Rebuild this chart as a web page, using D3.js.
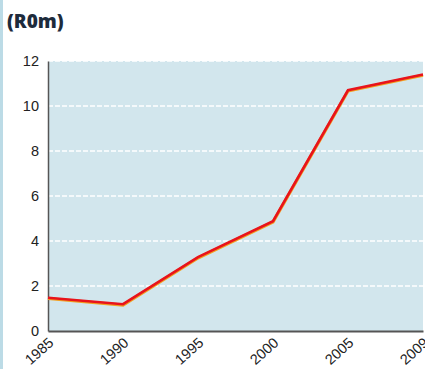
<!DOCTYPE html>
<html><head><meta charset="utf-8">
<script src="https://cdn.jsdelivr.net/npm/d3@7"></script>
<style>
body{margin:0;background:#fff;}
svg{display:block;}
</style></head>
<body>
<svg id="c" width="425" height="369"></svg>
<script>
const years = ["1985","1990","1995","2000","2005","2009"];
const values = [1.48, 1.19, 3.28, 4.88, 10.7, 11.4];
const yTicks = [0, 2, 4, 6, 8, 10, 12];
const title = "(R0m)";

const svg = d3.select("#c");
const m = {left: 48, right: 2, top: 61, bottom: 38};
const W = 425, H = 369;
const x = d3.scalePoint().domain(years).range([m.left, W - m.right]);
const y = d3.scaleLinear().domain([0, 12]).range([H - m.bottom, m.top]);

// left edge strip
svg.append("rect").attr("x",0).attr("y",0).attr("width",3).attr("height",H).attr("fill","#bcdbe6");

svg.append("text").attr("x",7).attr("y",28).text(title)
  .attr("font-family","'Open Sans', 'DejaVu Sans', sans-serif").attr("font-weight","800")
  .attr("font-size",19).attr("fill","#1d2b3c");

svg.append("rect").attr("x",m.left).attr("y",m.top)
  .attr("width",W - m.right - m.left).attr("height",y(0)-m.top).attr("fill","#d2e6ed");

// grid
svg.append("g").selectAll("line").data(yTicks.filter(d=>d>0)).join("line")
  .attr("x1",m.left).attr("x2",W-m.right).attr("y1",d=>y(d)).attr("y2",d=>y(d))
  .attr("stroke","#ffffff").attr("stroke-width",1.3).attr("stroke-dasharray","5,2");

// y axis
const ya = svg.append("g").attr("transform",`translate(${m.left},0)`)
  .call(d3.axisLeft(y).tickValues(yTicks).tickSize(0).tickPadding(9));
ya.select(".domain").attr("stroke","#555").attr("stroke-width",1.5);
ya.selectAll("text").attr("font-family","'Liberation Sans', Arial, sans-serif").attr("font-size",14.5).attr("fill","#222");

// x axis
const xa = svg.append("g").attr("transform",`translate(0,${y(0)})`)
  .call(d3.axisBottom(x).tickSize(0).tickPadding(0));
xa.select(".domain").attr("stroke","#555").attr("stroke-width",2);
xa.selectAll("text").attr("font-family","'Liberation Sans', Arial, sans-serif").attr("font-size",14.5).attr("fill","#222")
  .attr("text-anchor","end").attr("dy",0)
  .attr("transform","translate(6,13) rotate(-42)");

// line
const line = d3.line().x((d,i)=>x(years[i])).y(d=>y(d));
svg.append("path").datum(values).attr("d",line).attr("fill","none")
  .attr("stroke","#f2a020").attr("stroke-width",3.2).attr("transform","translate(0,0.8)");
svg.append("path").datum(values).attr("d",line).attr("fill","none")
  .attr("stroke","#e8131b").attr("stroke-width",2.6).attr("stroke-linejoin","miter");
</script>
</body></html>
